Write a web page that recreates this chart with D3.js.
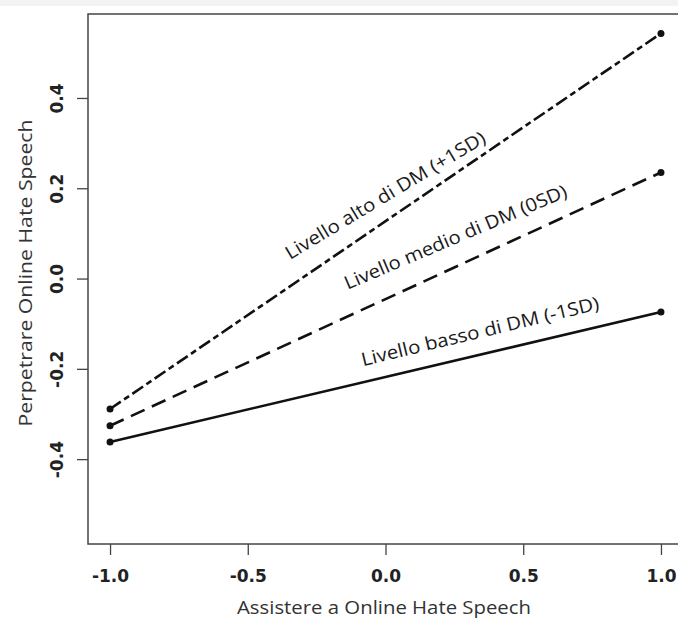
<!DOCTYPE html>
<html lang="it">
  <head>
    <meta charset="UTF-8" />
    <title>Interazione DM</title>
    <script src="https://d3js.org/d3.v7.min.js"></script>
    <style>
      body { margin: 0; background: #fff; }
      svg { display: block; }
    </style>
  </head>
  <body>
    <svg id="chart" width="678" height="622"></svg>
    <script>
      // values
      const xValues = [-1, 1];
      const highValues = [-0.289, 0.543];
      const midValues = [-0.326, 0.235];
      const lowValues = [-0.362, -0.074];
      const seriesLabels = [
        "Livello alto di DM (+1SD)",
        "Livello medio di DM (0SD)",
        "Livello basso di DM (-1SD)",
      ];
      const xTicks = [-1, -0.5, 0, 0.5, 1];
      const yTicks = [-0.4, -0.2, 0, 0.2, 0.4];
      const xTitle = "Assistere a Online Hate Speech";
      const yTitle = "Perpetrare Online Hate Speech";

      const svg = d3.select("#chart");
      const margin = { top: 14, left: 88, bottom: 78 };
      const height = +svg.attr("height");

      const x = d3.scaleLinear().domain([-1.08, 1.08]).range([margin.left, 683]);
      const y = d3.scaleLinear().domain([-0.588, 0.586]).range([height - margin.bottom, margin.top]);

      // faint strip at the very top of the scan
      svg.append("rect").attr("x", 0).attr("y", 0).attr("width", 678).attr("height", 6).attr("fill", "#f3f3f3");

      const series = [
        { label: seriesLabels[0], values: highValues, dash: "13,4,6,4", pos: [-0.347, 0.041], angle: -31, len: 230 },
        { label: seriesLabels[1], values: midValues, dash: "15,8", pos: [-0.138, -0.025], angle: -23, len: 240 },
        { label: seriesLabels[2], values: lowValues, dash: null, pos: [-0.082, -0.194], angle: -13.5, len: 244 },
      ];

      const line = d3.line().x((d) => x(d[0])).y((d) => y(d[1]));

      series.forEach((s) => {
        const pts = xValues.map((v, i) => [v, s.values[i]]);
        svg.append("path")
          .datum(pts)
          .attr("d", line)
          .attr("fill", "none")
          .attr("stroke", "#111")
          .attr("stroke-width", 2.6)
          .attr("stroke-dasharray", s.dash);
        svg.selectAll(null)
          .data(pts)
          .join("circle")
          .attr("cx", (d) => x(d[0]))
          .attr("cy", (d) => y(d[1]))
          .attr("r", 3.5)
          .attr("fill", "#111");

        const px = x(s.pos[0]);
        const py = y(s.pos[1]);
        svg.append("text")
          .attr("transform", "translate(" + px + "," + py + ") rotate(" + s.angle + ")")
          .attr("font-family", "'Open Sans', sans-serif")
          .attr("font-size", 18.5)
          .attr("fill", "#1a1a1a")
          .attr("textLength", s.len)
          .attr("lengthAdjust", "spacingAndGlyphs")
          .text(s.label);
      });

      // plot box (right side runs past the window)
      svg.append("rect")
        .attr("x", x.range()[0])
        .attr("y", y.range()[1])
        .attr("width", x.range()[1] - x.range()[0])
        .attr("height", y.range()[0] - y.range()[1])
        .attr("fill", "none")
        .attr("stroke", "#444")
        .attr("stroke-width", 1.5);

      const xAxis = svg.append("g")
        .attr("transform", "translate(0," + y.range()[0] + ")")
        .call(d3.axisBottom(x).tickValues(xTicks).tickSize(11).tickPadding(15).tickFormat((d) => d.toFixed(1)));
      xAxis.select(".domain").remove();
      xAxis.selectAll(".tick line").attr("stroke", "#444").attr("stroke-width", 1.3);
      xAxis.selectAll(".tick text")
        .attr("font-family", "'DejaVu Sans', sans-serif")
        .attr("font-weight", "bold")
        .attr("font-size", 17)
        .attr("fill", "#222");

      const yAxis = svg.append("g")
        .attr("transform", "translate(" + x.range()[0] + ",0)")
        .call(d3.axisLeft(y).tickValues(yTicks).tickSize(11).tickFormat((d) => d.toFixed(1)));
      yAxis.select(".domain").remove();
      yAxis.selectAll(".tick line").attr("stroke", "#444").attr("stroke-width", 1.3);
      yAxis.selectAll(".tick text")
        .attr("transform", "rotate(-90)")
        .attr("x", 0)
        .attr("y", -25)
        .attr("dy", 0)
        .attr("text-anchor", "middle")
        .attr("font-family", "'DejaVu Sans', sans-serif")
        .attr("font-weight", "bold")
        .attr("font-size", 17)
        .attr("fill", "#222");

      svg.append("text")
        .attr("x", 384)
        .attr("y", 614)
        .attr("text-anchor", "middle")
        .attr("font-family", "'Open Sans', sans-serif")
        .attr("font-size", 18)
        .attr("fill", "#333")
        .attr("textLength", 294)
        .attr("lengthAdjust", "spacingAndGlyphs")
        .text(xTitle);

      svg.append("text")
        .attr("transform", "translate(32,273) rotate(-90)")
        .attr("text-anchor", "middle")
        .attr("font-family", "'Open Sans', sans-serif")
        .attr("font-size", 18)
        .attr("fill", "#333")
        .attr("textLength", 307)
        .attr("lengthAdjust", "spacingAndGlyphs")
        .text(yTitle);
    </script>
  </body>
</html>
